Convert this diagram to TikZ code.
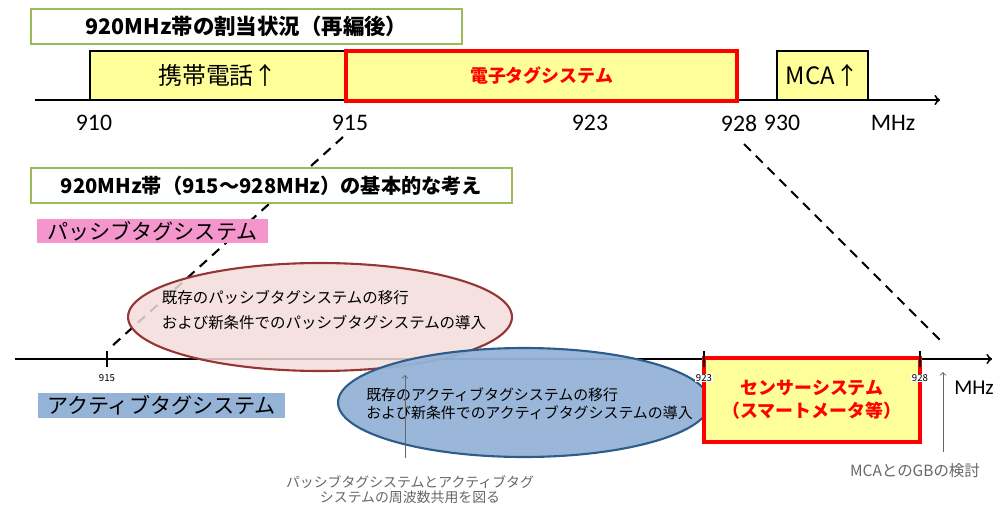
\documentclass[tikz,border=0pt]{standalone}
\usepackage{fontspec}
\setmainfont{Noto Sans CJK JP}
\newfontfamily\numfont{Carlito}
\usetikzlibrary{shapes.geometric}
\definecolor{titlegreen}{HTML}{9BBB59}
\definecolor{bandyellow}{HTML}{FFFF99}
\definecolor{tagred}{HTML}{FF0000}
\definecolor{passpink}{RGB}{244,150,204}
\definecolor{actblue}{HTML}{95B3D7}
\definecolor{ellpink}{HTML}{F2DCDB}
\definecolor{ellpinkline}{HTML}{943634}
\definecolor{ellblueline}{HTML}{2E5C8A}
\definecolor{notegray}{HTML}{666666}
\tikzset{
  titlebox/.style={draw=titlegreen, line width=1.4pt, fill=white, minimum height=0.7cm, inner sep=0pt, font=\bfseries\fontsize{11.5}{14}\selectfont},
  bandbox/.style={draw, line width=0.8pt, fill=bandyellow, minimum height=0.98cm, inner sep=0pt, font=\fontsize{13.6}{16}\selectfont},
  tagbox/.style={draw=tagred, line width=2.2pt, fill=bandyellow, inner sep=0pt, text=tagred, font=\bfseries\fontsize{10.2}{13}\selectfont},
  axislabel/.style={font=\numfont\fontsize{13.5}{16}\selectfont},
  ticklabel/.style={fill=white, inner sep=0.5pt, font=\fontsize{5.5}{6}\selectfont},
  syslabel/.style={inner sep=0pt, font=\fontsize{12}{14}\selectfont},
  guide/.style={dash pattern=on 5.5pt off 4pt, line width=1.2pt},
  note/.style={text=notegray, align=center, font=\fontsize{7.9}{8.5}\selectfont},
  notearrow/.style={->, draw=notegray, line width=0.5pt},
}
\begin{document}
\begin{tikzpicture}[x=0.02cm,y=-0.02cm]
\useasboundingbox (0,0) rectangle (1001,507);
\clip (0,0) rectangle (1001,507);
\coordinate (g915top) at (343,137);
\coordinate (g915low) at (111,347);
\coordinate (g928top) at (744,144);
\coordinate (g928low) at (942,342);
\draw[guide] (g915top) -- (g915low);
\draw[guide] (g928top) -- (g928low);

\coordinate (topL) at (35,100);
\coordinate (topR) at (940,100);
\draw[line width=1.1pt,->] (topL) -- (topR);
\node[titlebox, minimum width=8.62cm, font=\bfseries\fontsize{12.2}{14}\selectfont] (plan) at (246.5,26.5) {920MHz帯の割当状況（再編後）};
\node[bandbox, minimum width=5.12cm] (mobile) at (218,75.5) {携帯電話↑};
\node[tagbox, minimum width=7.82cm, minimum height=1.0cm] (etag) at (541.5,76) {電子タグシステム};
\node[bandbox, minimum width=1.82cm] (mca) at (822.5,75.5) {MCA↑};
\foreach \x/\f in {94/910, 350/915, 590/923, 739/928, 782/930, 893/MHz}
  \node[axislabel] (top\f) at (\x,123) {\f};

\node[titlebox, minimum width=9.62cm] (policy) at (271.5,185.5) {920MHz帯（915～928MHz）の基本的な考え};
\node[syslabel, fill=passpink, minimum width=4.62cm, minimum height=0.48cm] (passive) at (152.5,231) {パッシブタグシステム};

\coordinate (lowL) at (15,359);
\coordinate (lowR) at (992,359);
\draw[line width=1.1pt,->] (lowL) -- (lowR);
\node[ellipse, draw=ellpinkline, fill=ellpink, fill opacity=0.85, line width=1.2pt, minimum width=7.68cm, minimum height=2.16cm] (passell) at (320,317) {};
\node[ellipse, draw=ellblueline, fill=actblue, fill opacity=0.95, line width=1.2pt, minimum width=7.44cm, minimum height=2.18cm] (actell) at (524,402.5) {};
\node[align=left, font=\fontsize{8.8}{14.2}\selectfont] (passtxt) at (324,310) {既存のパッシブタグシステムの移行\\および新条件でのパッシブタグシステムの導入};
\node[align=left, font=\fontsize{8.5}{10.2}\selectfont] (acttxt) at (529.5,404) {既存のアクティブタグシステムの移行\\および新条件でのアクティブタグシステムの導入};
\node[syslabel, fill=actblue, minimum width=4.94cm, minimum height=0.5cm] (active) at (161.5,405.5) {アクティブタグシステム};
\node[tagbox, minimum width=4.32cm, minimum height=1.68cm, align=center] (sensor) at (812,400) {センサーシステム\\（スマートメータ等）};
\foreach \x/\f in {107/915, 704/923, 920/928} {
  \draw[line width=0.8pt] (\x,351) -- (\x,367);
  \node[ticklabel] (tick\f) at (\x,378) {\f};
}
\node[axislabel, anchor=east, font=\numfont\fontsize{12}{14}\selectfont] (lowunit) at (1000,388) {MHz};

\node[note] (share) at (410,490) {パッシブタグシステムとアクティブタグ\\システムの周波数共用を図る};
\coordinate (shareTail) at (405,458);
\coordinate (shareTip) at (405,375);
\draw[notearrow] (shareTail) -- (shareTip);
\node[note, font=\fontsize{8.8}{9.5}\selectfont] (gb) at (915,471) {MCAとのGBの検討};
\coordinate (gbTail) at (943,452);
\coordinate (gbTip) at (943,372);
\draw[notearrow] (gbTail) -- (gbTip);

\end{tikzpicture}
\end{document}
